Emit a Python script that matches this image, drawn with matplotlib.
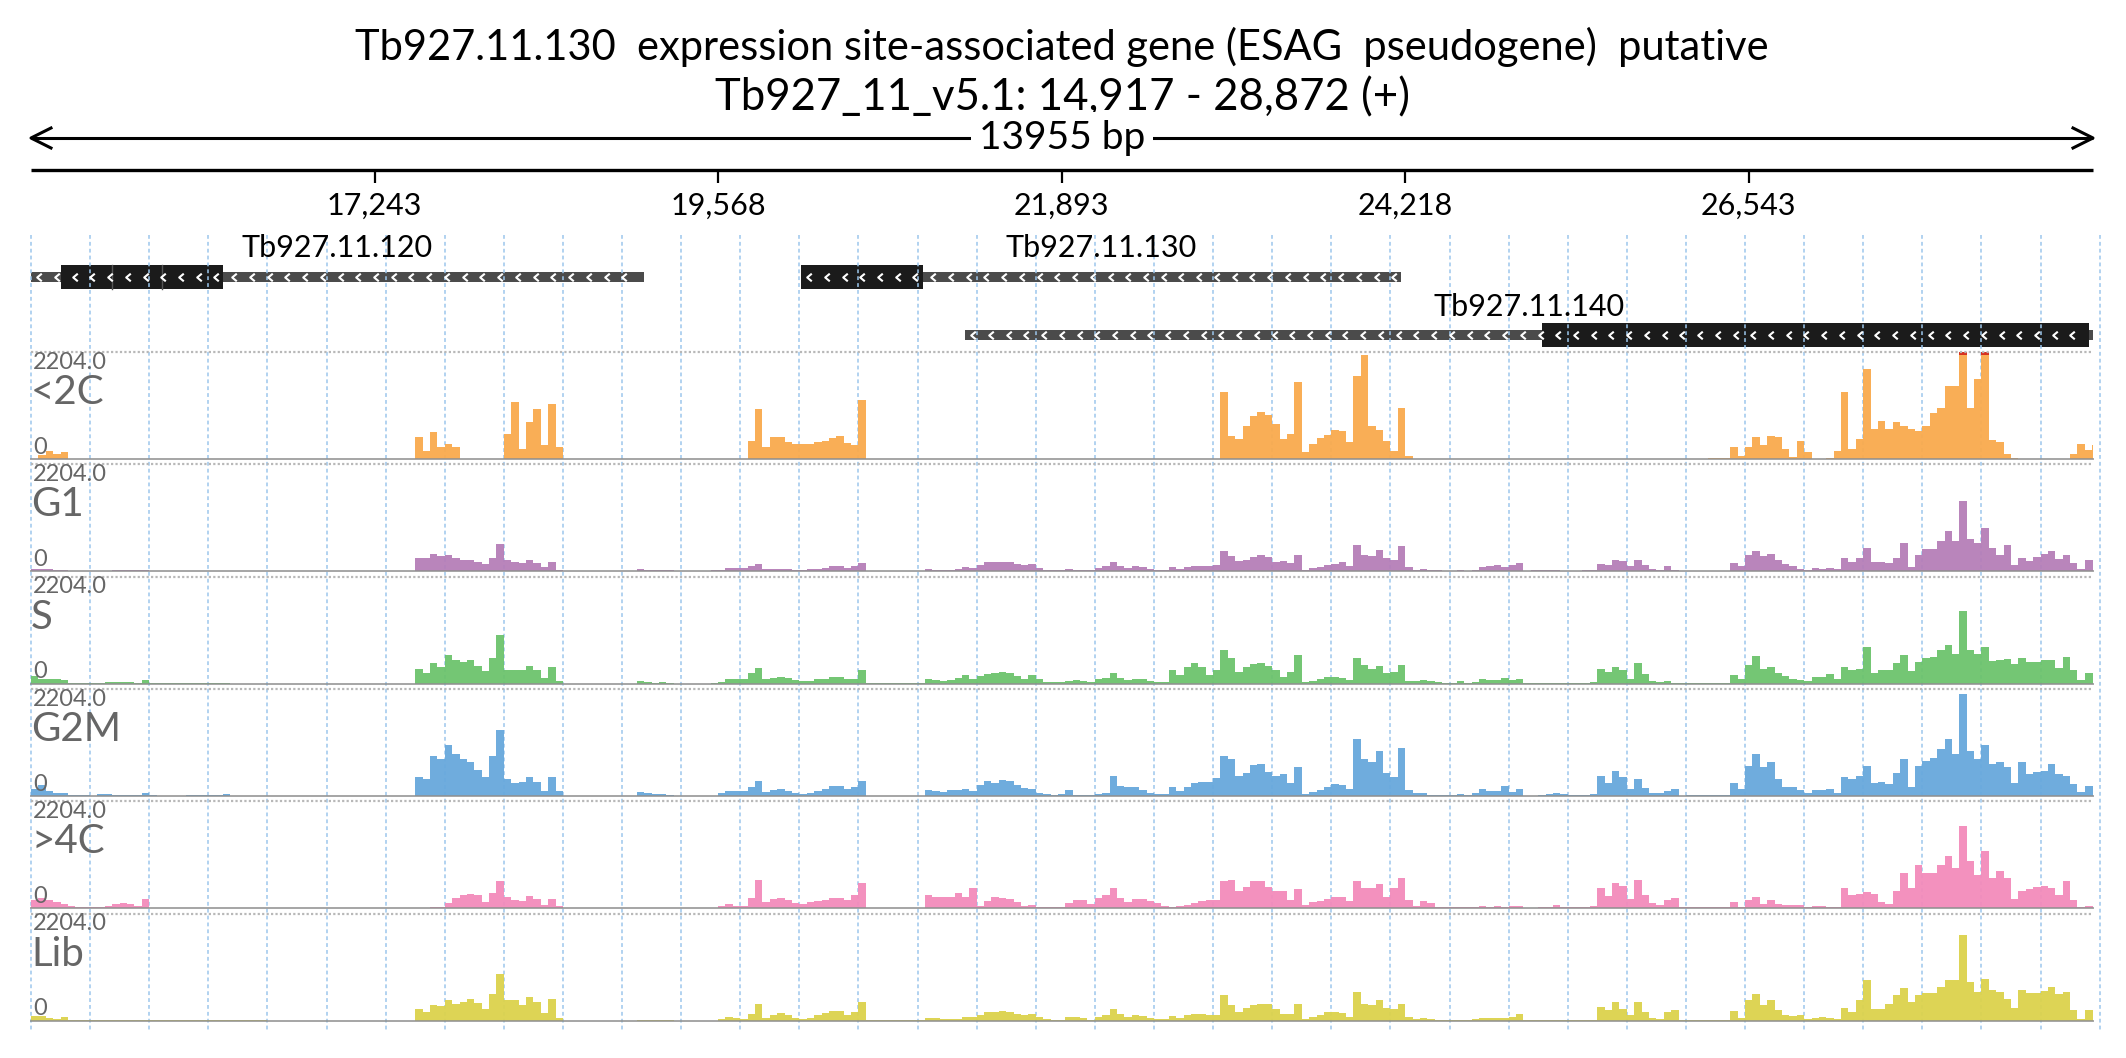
import numpy as np
import matplotlib.pyplot as plt
from matplotlib.patches import Rectangle
from matplotlib.path import Path

plt.rcParams['font.family'] = ['Lato', 'DejaVu Sans']

# region shown
chrom = "Tb927_11_v5.1"
start, end = 14917, 28872
bin_bp = 50
ymax = 2204.0
title = "Tb927.11.130  expression site-associated gene (ESAG  pseudogene)  putative"

ticks = [17243, 19568, 21893, 24218, 26543]
tick_labels = ["17,243", "19,568", "21,893", "24,218", "26,543"]

# genes (all on minus strand)
gene_names = ["Tb927.11.120", "Tb927.11.130", "Tb927.11.140"]
gene_start = [14917, 20128, 21238]
gene_end = [19066, 24189, 28872]
gene_row = [0, 0, 1]
cds_start = [15120, 20128, 25143]
cds_end = [16216, 20954, 28846]
cds_breaks = [[15465, 15803], [], []]

# coverage, 50 bp bins from 14917 (one row = 400 bp)
cov_lt2c = (
    [0, 80, 165, 100, 140, 0, 0, 0] + [0] * 40 +
    [0, 0, 0, 0, 460, 170, 550, 240] +
    [310, 240, 0, 0, 0, 0, 0, 0] +
    [520, 1175, 210, 760, 1040, 280, 1140, 240] + [0] * 24 +
    [0, 380, 1040, 240, 450, 450, 345, 310] +
    [310, 310, 345, 380, 430, 470, 330, 280] +
    [1210, 0, 0, 0, 0, 0, 0, 0] + [0] * 40 +
    [0, 1380, 480, 415, 690, 885, 970, 900] +
    [730, 415, 520, 1590, 140, 300, 430, 500] +
    [600, 580, 360, 1700, 2150, 690, 600, 380] +
    [170, 1060, 60, 0, 0, 0, 0, 0] + [0] * 32 +
    [0, 0, 0, 15, 15, 15, 255, 70] +
    [240, 450, 280, 480, 450, 210, 35, 380] +
    [140, 0, 0, 20, 170, 1380, 200, 415] +
    [1845, 620, 790, 620, 760, 680, 610, 580] +
    [680, 950, 1050, 1500, 1500, 2450, 1050, 1650] +
    [2300, 400, 340, 100, 20, 0, 0, 0] +
    [0, 0, 0, 0, 110, 310, 180, 280]
)
cov_g1 = (
    [55, 55, 40, 35, 20, 7, 7, 7] +
    [5, 5, 5, 20, 20, 20, 20, 35] +
    [10, 5, 5, 5, 5, 5, 10, 10] +
    [15, 15, 15, 0, 0, 0, 0, 0] + [0] * 16 +
    [0, 0, 0, 0, 275, 275, 360, 310] +
    [345, 275, 240, 225, 190, 150, 275, 570] +
    [240, 190, 170, 230, 170, 85, 195, 30] + [0] * 8 +
    [0, 0, 40, 35, 20, 35, 20, 0] +
    [0, 0, 0, 0, 35, 35, 60, 70] +
    [75, 105, 150, 45, 55, 55, 40, 35] +
    [35, 40, 50, 70, 105, 105, 70, 100] +
    [175, 5, 5, 5, 5, 5, 5, 5] +
    [5, 40, 35, 30, 35, 55, 85, 70] +
    [120, 195, 190, 195, 190, 160, 140, 150] +
    [70, 20, 20, 20, 50, 35, 35, 35] +
    [70, 100, 195, 105, 70, 105, 85, 55] +
    [35, 35, 85, 55, 85, 105, 115, 105] +
    [120, 415, 310, 210, 225, 290, 330, 290] +
    [190, 210, 175, 345, 35, 60, 95, 120] +
    [155, 185, 105, 550, 345, 310, 440, 275] +
    [240, 520, 85, 35, 50, 20, 20, 15] +
    [15, 35, 15, 20, 85, 105, 125, 85] +
    [120, 175, 15, 20, 20, 20, 20, 15] +
    [15, 15, 20, 35, 150, 125, 240, 210] +
    [105, 240, 140, 55, 35, 105, 20, 5] +
    [5, 5, 5, 5, 5, 5, 175, 105] +
    [345, 415, 310, 360, 225, 155, 100, 45] +
    [20, 60, 55, 70, 55, 280, 195, 280] +
    [485, 190, 185, 180, 280, 590, 85, 345] +
    [450, 450, 620, 830, 620, 1450, 660, 590] +
    [900, 480, 345, 550, 140, 275, 210, 300] +
    [360, 420, 260, 345, 175, 55, 240, 240]
)
cov_s = (
    [150, 105, 100, 85, 80, 20, 15, 15] +
    [5, 5, 25, 25, 25, 25, 10, 65] +
    [10, 10, 10, 10, 10, 10, 10, 10] +
    [10, 10, 10, 0, 0, 0, 0, 0] + [0] * 16 +
    [0, 0, 0, 0, 310, 210, 415, 345] +
    [585, 480, 450, 480, 360, 260, 520, 1000] +
    [275, 275, 290, 360, 275, 120, 345, 60] + [0] * 8 +
    [0, 0, 55, 35, 20, 35, 20, 0] +
    [0, 0, 0, 0, 5, 35, 85, 85] +
    [90, 210, 330, 85, 125, 145, 115, 65] +
    [55, 55, 85, 105, 130, 140, 105, 105] +
    [275, 5, 5, 5, 5, 5, 5, 5] +
    [5, 85, 70, 55, 75, 125, 175, 105] +
    [155, 195, 225, 240, 225, 160, 105, 175] +
    [85, 35, 35, 35, 55, 70, 55, 35] +
    [85, 125, 210, 125, 70, 90, 85, 55] +
    [35, 35, 290, 175, 345, 430, 345, 175] +
    [275, 690, 520, 240, 345, 400, 420, 370] +
    [275, 140, 240, 585, 35, 60, 95, 130] +
    [145, 115, 75, 520, 380, 310, 360, 210] +
    [240, 380, 60, 45, 70, 55, 35, 20] +
    [15, 55, 20, 35, 85, 70, 80, 125] +
    [70, 105, 10, 10, 20, 20, 20, 15] +
    [10, 10, 15, 35, 310, 240, 345, 275] +
    [105, 415, 190, 55, 35, 50, 20, 5] +
    [20, 20, 20, 20, 20, 20, 175, 105] +
    [380, 570, 310, 345, 210, 155, 85, 70] +
    [50, 140, 140, 190, 85, 345, 275, 310] +
    [760, 210, 275, 290, 415, 580, 260, 450] +
    [520, 550, 690, 800, 600, 1500, 690, 620] +
    [760, 460, 480, 500, 400, 520, 450, 450] +
    [480, 480, 330, 550, 275, 70, 210, 210]
)
cov_g2m = (
    [140, 220, 105, 70, 55, 20, 15, 15] +
    [5, 30, 30, 25, 25, 25, 25, 70] +
    [10, 5, 5, 5, 5, 10, 10, 10] +
    [20, 20, 35, 0, 0, 0, 0, 0] + [0] * 16 +
    [0, 0, 0, 0, 380, 345, 830, 760] +
    [1040, 860, 760, 690, 540, 380, 830, 1350] +
    [345, 275, 290, 390, 290, 105, 380, 100] + [0] * 8 +
    [0, 0, 80, 55, 35, 35, 20, 0] +
    [0, 0, 0, 0, 5, 55, 105, 105] +
    [95, 175, 310, 85, 130, 150, 105, 55] +
    [35, 55, 105, 150, 195, 195, 140, 175] +
    [310, 5, 5, 5, 5, 5, 5, 5] +
    [5, 125, 105, 85, 115, 125, 140, 105] +
    [225, 310, 260, 330, 310, 225, 170, 150] +
    [70, 35, 20, 35, 125, 20, 15, 15] +
    [40, 55, 415, 210, 175, 190, 120, 70] +
    [35, 35, 175, 105, 190, 260, 290, 280] +
    [360, 830, 760, 415, 480, 640, 660, 500] +
    [415, 450, 275, 600, 35, 85, 125, 190] +
    [240, 225, 140, 1170, 760, 690, 930, 480] +
    [380, 990, 120, 60, 70, 20, 15, 15] +
    [15, 35, 20, 55, 140, 105, 100, 200] +
    [90, 140, 5, 5, 20, 45, 60, 35] +
    [20, 20, 15, 35, 415, 275, 520, 380] +
    [150, 340, 170, 70, 70, 105, 140, 5] +
    [10, 10, 10, 10, 10, 10, 260, 140] +
    [620, 860, 590, 690, 345, 190, 175, 125] +
    [50, 125, 120, 140, 60, 380, 345, 415] +
    [620, 260, 290, 240, 480, 760, 190, 620] +
    [720, 780, 970, 1170, 860, 2100, 930, 760] +
    [1040, 660, 690, 590, 260, 690, 450, 500] +
    [520, 660, 450, 415, 240, 85, 210, 210]
)
cov_gt4c = (
    [175, 210, 175, 125, 85, 55, 35, 20] +
    [20, 35, 55, 85, 105, 85, 55, 185] +
    [5, 0, 0, 0, 0, 0, 0, 0] + [0] * 24 +
    [0, 0, 0, 0, 0, 0, 35, 20] +
    [100, 210, 275, 300, 265, 120, 310, 570] +
    [240, 175, 150, 260, 190, 60, 195, 40] + [0] * 16 +
    [0, 0, 0, 0, 0, 55, 85, 40] +
    [55, 200, 590, 120, 195, 210, 165, 105] +
    [95, 125, 150, 175, 200, 200, 160, 275] +
    [520, 5, 5, 5, 5, 5, 5, 5] +
    [5, 280, 240, 225, 240, 310, 240, 415] +
    [55, 155, 225, 210, 190, 120, 45, 70] +
    [20, 20, 20, 35, 105, 175, 160, 80] +
    [210, 275, 415, 210, 120, 185, 185, 155] +
    [105, 55, 35, 45, 75, 105, 145, 175] +
    [175, 550, 590, 345, 430, 550, 570, 430] +
    [350, 345, 175, 395, 70, 120, 155, 190] +
    [225, 225, 140, 550, 415, 415, 500, 240] +
    [415, 620, 175, 55, 150, 105, 20, 15] +
    [15, 35, 20, 20, 45, 35, 50, 35] +
    [55, 55, 5, 5, 20, 35, 70, 35] +
    [20, 20, 20, 50, 415, 250, 520, 450] +
    [190, 590, 275, 105, 70, 175, 210, 15] +
    [15, 15, 15, 15, 15, 20, 125, 35] +
    [175, 240, 85, 175, 85, 70, 60, 75] +
    [20, 50, 55, 20, 15, 415, 275, 300] +
    [330, 300, 120, 95, 345, 730, 415, 900] +
    [720, 720, 900, 1070, 830, 1690, 970, 690] +
    [1170, 620, 760, 620, 190, 345, 400, 430] +
    [450, 415, 275, 550, 175, 35, 45, 45]
)
cov_lib = (
    [100, 85, 55, 40, 70, 15, 10, 10] +
    [10, 10, 10, 10, 10, 20, 20, 20] +
    [10, 10, 10, 10, 10, 10, 10, 10] +
    [5, 5, 20, 5, 5, 5, 5, 5] + [0] * 16 +
    [0, 0, 0, 0, 240, 175, 310, 290] +
    [415, 345, 380, 450, 360, 240, 550, 950] +
    [415, 415, 310, 480, 380, 150, 450, 60] + [0] * 8 +
    [0, 0, 20, 20, 10, 20, 10, 0] +
    [0, 0, 0, 0, 0, 35, 70, 45] +
    [35, 140, 330, 55, 120, 145, 105, 55] +
    [35, 55, 105, 150, 200, 190, 105, 175] +
    [380, 5, 5, 5, 5, 5, 5, 5] +
    [5, 55, 45, 30, 35, 35, 70, 70] +
    [120, 175, 170, 190, 175, 140, 105, 125] +
    [70, 35, 20, 20, 75, 70, 55, 20] +
    [70, 105, 240, 140, 70, 105, 85, 60] +
    [35, 35, 85, 50, 115, 140, 130, 105] +
    [105, 520, 310, 175, 260, 320, 345, 330] +
    [240, 140, 140, 330, 35, 70, 120, 165] +
    [175, 155, 80, 590, 345, 320, 430, 250] +
    [240, 330, 70, 35, 50, 35, 20, 20] +
    [15, 20, 20, 35, 60, 55, 60, 45] +
    [70, 140, 10, 10, 10, 10, 10, 10] +
    [10, 10, 10, 20, 275, 210, 380, 240] +
    [120, 380, 175, 55, 35, 175, 210, 10] +
    [10, 10, 10, 10, 10, 10, 195, 60] +
    [415, 550, 310, 415, 225, 120, 85, 120] +
    [35, 60, 70, 55, 35, 260, 175, 415] +
    [830, 240, 240, 330, 520, 660, 380, 520] +
    [570, 570, 690, 830, 830, 1760, 800, 590] +
    [850, 620, 590, 450, 260, 620, 570, 570] +
    [600, 690, 550, 590, 210, 35, 210, 210]
)

track_names = ["<2C", "G1", "S", "G2M", ">4C", "Lib"]
track_data = [cov_lt2c, cov_g1, cov_s, cov_g2m, cov_gt4c, cov_lib]
track_colors = ["#F9AA4D", "#B57EB8", "#6CC36C", "#67A8DC", "#F38BBB", "#DCD24C"]

# ---- layout (pixels) ----
W, H = 2126, 1058
px0, px1 = 31, 2093
bpp = (end - start) / (px1 - px0)

fig = plt.figure(figsize=(W / 100, H / 100), dpi=100)
ax = fig.add_axes([0, 0, 1, 1])
ax.set_xlim(start - px0 * bpp, start + (W - px0) * bpp)
ax.set_ylim(H, 0)
ax.axis("off")
xmid = (start + end) / 2

# title
ax.text(xmid, 47, title, ha="center", va="center", fontsize=30)
ax.text(xmid, 98, f"{chrom}: {start:,} - {end:,} (+)", ha="center", va="center", fontsize=31.5)

# span arrow
ax.plot([start, end], [138, 138], color="black", lw=2.2, solid_capstyle="butt")
ah = 20 * bpp
ax.plot([start + ah, start, start + ah], [128, 138, 148], color="black", lw=2.2)
ax.plot([end - ah, end, end - ah], [128, 138, 148], color="black", lw=2.2)
ax.text(xmid, 138, f"{end - start} bp", ha="center", va="center", fontsize=28,
        bbox=dict(facecolor="white", edgecolor="none", pad=6))

# ruler
ax.plot([start, end], [170, 170], color="black", lw=2.4, solid_capstyle="butt")
ax.vlines(ticks, 170, 183, color="black", lw=1.6)
for t, lab in zip(ticks, tick_labels):
    ax.text(t, 206, lab, ha="center", va="center", fontsize=22)

# grid
ax.vlines(np.arange(start, start + 14001, 400), 235, 1030, colors="#9cc6ec",
          linestyles=(0, (2.5, 2)), lw=1.1)

# genes
row_y = [277, 335]
label_y = [248, 307]
chev = Path([(0.6, 1), (-0.6, 0), (0.6, -1)], [Path.MOVETO, Path.LINETO, Path.LINETO])
for name, gs, ge, r, cs, ce, br in zip(gene_names, gene_start, gene_end, gene_row,
                                         cds_start, cds_end, cds_breaks):
    yc = row_y[r]
    ax.add_patch(Rectangle((gs, yc - 5), ge - gs, 10, facecolor="#4b4b4b", edgecolor="none"))
    ax.add_patch(Rectangle((cs, yc - 12), ce - cs, 24, facecolor="#1b1b1b", edgecolor="none"))
    for b in br:
        ax.plot([b, b], [yc - 12, yc + 12], color="#555555", lw=1)
    xs = np.arange(gs + 55, ge - 25, 120)
    ax.plot(xs, np.full(len(xs), yc), ls="none", marker=chev, ms=5.5,
            mec="white", mfc="none", mew=1.5)
    ax.text((gs + ge) / 2, label_y[r], name, ha="center", va="center", fontsize=22)

# coverage tracks
edges = np.append(np.arange(start, end, bin_bp), end)
for i, (name, vals, col) in enumerate(zip(track_names, track_data, track_colors)):
    top = 352 + 112.3 * i
    ta = fig.add_axes([px0 / W, 1 - (top + 107) / H, (px1 - px0) / W, 107 / H])
    ta.set_xlim(start, end)
    ta.set_ylim(0, ymax)
    ta.axis("off")
    v = np.array(vals, dtype=float)
    ta.stairs(np.minimum(v, ymax), edges, fill=True, color=col, alpha=0.95)
    over = v > ymax
    if over.any():
        ta.bar(edges[:-1][over], ymax * 0.025, width=bin_bp, bottom=ymax * 0.975,
               align="edge", color="#d7301f")
    ta.axhline(ymax, color="#b8b8b8", ls=(0, (1, 1)), lw=1.6, clip_on=False)
    ta.axhline(0, color="#8f8f8f", lw=1.4, alpha=0.8, clip_on=False)
    ta.text(0.001, 0.905, f"{ymax:.1f}", transform=ta.transAxes, ha="left", va="center",
            fontsize=17, color="#666666")
    ta.text(0.0, 0.62, name, transform=ta.transAxes, ha="left", va="center",
            fontsize=29, color="#666666")
    ta.text(0.001, 0.11, "0", transform=ta.transAxes, ha="left", va="center",
            fontsize=17, color="#666666")

fig.savefig("out.png", dpi=100)
